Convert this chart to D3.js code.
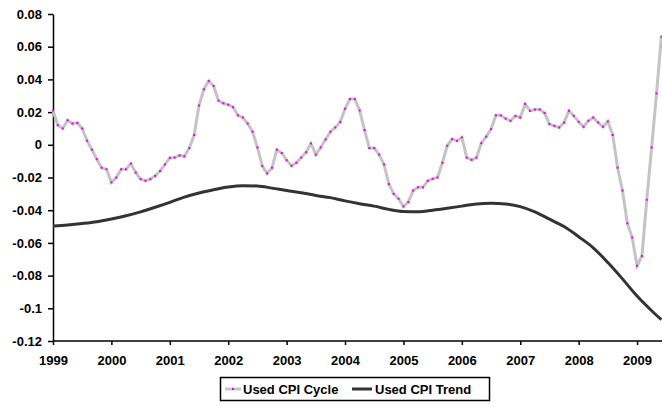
<!DOCTYPE html>
<html>
<head>
<meta charset="utf-8">
<script src="https://cdn.jsdelivr.net/npm/d3@7"></script>
<style>
  body { margin: 0; background: #fff; }
  text { font-family: "Liberation Sans", Arial, sans-serif; font-weight: bold; }
</style>
</head>
<body>
<div id="chart"></div>
<script>
// monthly data, Jan 1999 .. Jun 2009
var years = [1999, 2000, 2001, 2002, 2003, 2004, 2005, 2006, 2007, 2008, 2009];

var cycle = [
    0.021, 0.012, 0.010, 0.015, 0.013, 0.0134, 0.010, 0.0025, -0.003, -0.0088, -0.014, -0.015,
    -0.023, -0.020, -0.015, -0.015, -0.0115, -0.017, -0.021, -0.022, -0.021, -0.019, -0.016, -0.012,
    -0.008, -0.0078, -0.0065, -0.007, -0.002, 0.006, 0.024, 0.034, 0.039, 0.036, 0.027, 0.0254,
    0.0245, 0.023, 0.018, 0.0167, 0.013, 0.008, -0.0016, -0.013, -0.0175, -0.014, -0.003, -0.005,
    -0.0094, -0.0128, -0.011, -0.0078, -0.0045, 0.0008, -0.006, -0.0016, 0.0033, 0.008, 0.0106, 0.014,
    0.022, 0.028, 0.028, 0.021, 0.009, -0.002, -0.002, -0.006, -0.012, -0.024, -0.030, -0.033,
    -0.0377, -0.035, -0.028, -0.026, -0.026, -0.022, -0.0208, -0.020, -0.011, -0.0006, 0.0035, 0.0024,
    0.0045, -0.0078, -0.0092, -0.0078, 0.001, 0.005, 0.0096, 0.018, 0.018, 0.016, 0.0147, 0.0177,
    0.0167, 0.025, 0.0208, 0.0216, 0.0216, 0.0194, 0.0127, 0.0116, 0.0106, 0.0136, 0.0208, 0.0177,
    0.0141, 0.011, 0.0147, 0.0167, 0.0136, 0.011, 0.0143, 0.006, -0.014, -0.028, -0.048, -0.0567,
    -0.074, -0.068, -0.0336, -0.0016, 0.0314, 0.0662
];

var trendMonth = [0, 3, 6, 9, 12, 15, 18, 21, 24, 27, 30, 33, 36, 39, 42, 45, 48, 51, 54, 57, 60,
    63, 66, 69, 72, 75, 78, 81, 84, 87, 90, 93, 96, 99, 102, 105, 108, 111, 114, 117, 120, 123, 125];
var trendValue = [-0.0497, -0.049, -0.0481, -0.047, -0.0454, -0.0434, -0.041, -0.0382, -0.0352, -0.032,
    -0.0295, -0.0275, -0.0258, -0.025, -0.0252, -0.0265, -0.028, -0.0293, -0.031, -0.0323, -0.0343,
    -0.036, -0.0375, -0.0395, -0.0408, -0.041, -0.040, -0.0388, -0.0375, -0.0362, -0.0358, -0.0362,
    -0.0378, -0.041, -0.0455, -0.050, -0.0562, -0.063, -0.072, -0.082, -0.0925, -0.1015, -0.107];

var yTicks = [0.08, 0.06, 0.04, 0.02, 0, -0.02, -0.04, -0.06, -0.08, -0.1, -0.12];

var W = 662, H = 407;

var svg = d3.select("#chart")
    .append("svg")
    .attr("width", W)
    .attr("height", H);

var x = d3.scaleLinear()
    .domain([0, 125])
    .range([53, 661.4]);

var y = d3.scaleLinear()
    .domain([-0.12, 0.08])
    .range([341, 14]);

// Y axis
var yAxis = svg.append("g")
    .attr("transform", "translate(53,0)")
    .call(d3.axisLeft(y)
        .tickValues(yTicks)
        .tickSize(5)
        .tickSizeOuter(0)
        .tickPadding(6)
        .tickFormat(function(d) { return d === 0 ? "0" : String(+d.toFixed(2)); }));

// X axis
var xAxis = svg.append("g")
    .attr("transform", "translate(0,341)")
    .call(d3.axisBottom(x)
        .tickValues(years.map(function(d, i) { return i * 12; }))
        .tickSize(4)
        .tickSizeOuter(0)
        .tickPadding(11)
        .tickFormat(function(d, i) { return years[i]; }));

svg.selectAll(".domain").attr("stroke", "#000").attr("stroke-width", 1.5);
svg.selectAll(".tick line").attr("stroke", "#000").attr("stroke-width", 1.5);
svg.selectAll(".tick text")
    .attr("fill", "#000")
    .style("font-size", "13px")
    .style("font-weight", "bold");
xAxis.select(".domain").attr("d", "M53,0H662");

// Trend line
var trendLine = d3.line()
    .x(function(d) { return x(d[0]); })
    .y(function(d) { return y(d[1]); })
    .curve(d3.curveMonotoneX);

svg.append("path")
    .datum(d3.zip(trendMonth, trendValue))
    .attr("fill", "none")
    .attr("stroke", "#333")
    .attr("stroke-width", 3)
    .attr("d", trendLine);

// Cycle line
var cycleLine = d3.line()
    .x(function(d, i) { return x(i); })
    .y(function(d) { return y(d); });

svg.append("path")
    .datum(cycle)
    .attr("fill", "none")
    .attr("stroke", "#c4c4c4")
    .attr("stroke-width", 3)
    .attr("d", cycleLine);

svg.selectAll("rect.dot")
    .data(cycle)
    .enter()
    .append("rect")
    .attr("class", "dot")
    .attr("x", function(d, i) { return x(i) - 1; })
    .attr("y", function(d) { return y(d) - 1; })
    .attr("width", 2)
    .attr("height", 2)
    .attr("fill", "#ee00ee");

// Legend
var legend = svg.append("g");
legend.append("rect")
    .attr("x", 220.5)
    .attr("y", 377.5)
    .attr("width", 269)
    .attr("height", 23)
    .attr("fill", "#fff")
    .attr("stroke", "#000")
    .attr("stroke-width", 1.5);

legend.append("line")
    .attr("x1", 225).attr("x2", 241)
    .attr("y1", 389).attr("y2", 389)
    .attr("stroke", "#c4c4c4")
    .attr("stroke-width", 3);
legend.append("rect")
    .attr("x", 232).attr("y", 388)
    .attr("width", 2).attr("height", 2)
    .attr("fill", "#ee00ee");
legend.append("text")
    .attr("x", 243).attr("y", 394)
    .style("font-size", "13px")
    .text("Used CPI Cycle");

legend.append("line")
    .attr("x1", 352).attr("x2", 372)
    .attr("y1", 389).attr("y2", 389)
    .attr("stroke", "#333")
    .attr("stroke-width", 3);
legend.append("text")
    .attr("x", 375).attr("y", 394)
    .style("font-size", "13px")
    .text("Used CPI Trend");
</script>
</body>
</html>
